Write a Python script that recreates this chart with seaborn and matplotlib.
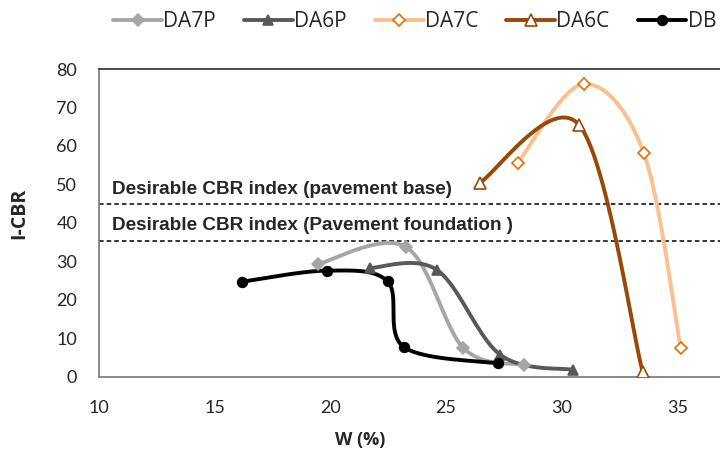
import numpy as np
import pandas as pd
import matplotlib
matplotlib.use('Agg')
import matplotlib.pyplot as plt
import seaborn as sns
from matplotlib.lines import Line2D

# Values
da7p_w = [19.45, 23.25, 25.75, 28.35]
da7p_cbr = [29.3, 33.8, 7.5, 3.1]
da6p_w = [21.7, 24.6, 27.35, 30.5]
da6p_cbr = [28.3, 27.8, 5.7, 1.8]
da7c_w = [28.1, 30.95, 33.55, 35.15]
da7c_cbr = [55.6, 76.1, 58.2, 7.5]
da6c_w = [26.45, 30.75, 33.5]
da6c_cbr = [50.4, 65.5, 1.3]
db_w = [16.15, 19.85, 22.47, 23.16, 27.23]
db_cbr = [24.7, 27.6, 24.8, 7.8, 3.5]

series_names = ['DA7P', 'DA6P', 'DA7C', 'DA6C', 'DB']
series_w = [da7p_w, da6p_w, da7c_w, da6c_w, db_w]
series_cbr = [da7p_cbr, da6p_cbr, da7c_cbr, da6c_cbr, db_cbr]

base_cbr = 45
foundation_cbr = 35.3


def smooth(xs, ys, n=40):
    # Catmull-Rom style smoothing like Excel's "smoothed line"
    p = np.column_stack([xs, ys]).astype(float)
    p_ext = np.vstack([p[0], p, p[-1]])
    out = []
    t = np.linspace(0, 1, n)[:, None]
    for i in range(len(p) - 1):
        p0, p1, p2, p3 = p_ext[i], p_ext[i + 1], p_ext[i + 2], p_ext[i + 3]
        c1 = p1 + (p2 - p0) / 6
        c2 = p2 - (p3 - p1) / 6
        seg = ((1 - t) ** 3) * p1 + 3 * ((1 - t) ** 2) * t * c1 + 3 * (1 - t) * t ** 2 * c2 + t ** 3 * p2
        out.append(seg if i == 0 else seg[1:])
    out = np.vstack(out)
    return out[:, 0], out[:, 1]


sns.set_style('white')
plt.rcParams['font.family'] = ['Lato', 'DejaVu Sans']

styles = {
    'DA7P': dict(color='#A6A6A6', marker='D', mfc='#A6A6A6', mec='#A6A6A6', ms=6),
    'DA6P': dict(color='#595959', marker='^', mfc='#595959', mec='#595959', ms=7),
    'DA7C': dict(color='#FAC090', marker='D', mfc='white', mec='#E46C0A', ms=6),
    'DA6C': dict(color='#984807', marker='^', mfc='white', mec='#984807', ms=8),
    'DB': dict(color='black', marker='o', mfc='black', mec='black', ms=7),
}

fig = plt.figure(figsize=(7.2, 4.54), dpi=100)
ax = fig.add_axes([0.138, 0.17, 0.862, 0.678])

handles = []
for name, w, cbr in zip(series_names, series_w, series_cbr):
    st = styles[name]
    sx, sy = smooth(w, cbr)
    curve = pd.DataFrame({'W': sx, 'CBR': sy})
    sns.lineplot(data=curve, x='W', y='CBR', sort=False, estimator=None,
                 color=st['color'], lw=2.8, ax=ax, legend=False, zorder=3)
    ax.plot(w, cbr, ls='none', marker=st['marker'], ms=st['ms'],
            mfc=st['mfc'], mec=st['mec'], mew=1.2, zorder=4)
    handles.append(Line2D([], [], color=st['color'], lw=2.8, marker=st['marker'],
                          ms=st['ms'], mfc=st['mfc'], mec=st['mec'], mew=1.2))

ax.axhline(base_cbr, color='black', ls='--', lw=1.1, dashes=(3, 2), zorder=2)
ax.axhline(foundation_cbr, color='black', ls='--', lw=1.1, dashes=(3, 2), zorder=2)
ax.text(10.55, base_cbr + 1.6, 'Desirable CBR index (pavement base)',
        family='Liberation Sans', fontweight='bold', fontsize=13.6, va='bottom')
ax.text(10.55, foundation_cbr + 1.9, 'Desirable CBR index (Pavement foundation )',
        family='Liberation Sans', fontweight='bold', fontsize=13.6, va='bottom')

ax.set_xlim(10, 36.85)
ax.set_ylim(0, 80)
ax.set_xticks([10, 15, 20, 25, 30, 35])
ax.set_yticks(range(0, 81, 10))
ax.tick_params(axis='x', direction='in', length=5, width=1, color='#808080',
               labelsize=13, pad=17)
ax.tick_params(axis='y', length=0, labelsize=13, pad=16)

for side in ['left', 'bottom']:
    ax.spines[side].set_color('#808080')
    ax.spines[side].set_linewidth(1.3)
ax.spines['top'].set_color('#3a3a3a')
ax.spines['top'].set_linewidth(1.3)
ax.spines['right'].set_visible(False)

ax.set_xlabel('W (%)', fontweight='bold', fontsize=13, family='Open Sans')
ax.set_ylabel('I-CBR', fontweight='bold', fontsize=14, family='Open Sans')
ax.xaxis.set_label_coords((360 - 99) / 621, -(440 - 377) / 308, transform=ax.transAxes)
ax.yaxis.set_label_coords(-(99 - 19) / 621, (377 - 213) / 308, transform=ax.transAxes)
ax.xaxis.label.set_va('center')
ax.yaxis.label.set_va('center')

fig.legend(handles, series_names, loc='center left', bbox_to_anchor=(0.157, 0.952),
           ncol=5, frameon=False, prop={'family': 'Open Sans', 'size': 15},
           handlelength=2.35, columnspacing=1.35, handletextpad=0.05,
           borderpad=0, borderaxespad=0)

fig.savefig('out.png', dpi=100)
